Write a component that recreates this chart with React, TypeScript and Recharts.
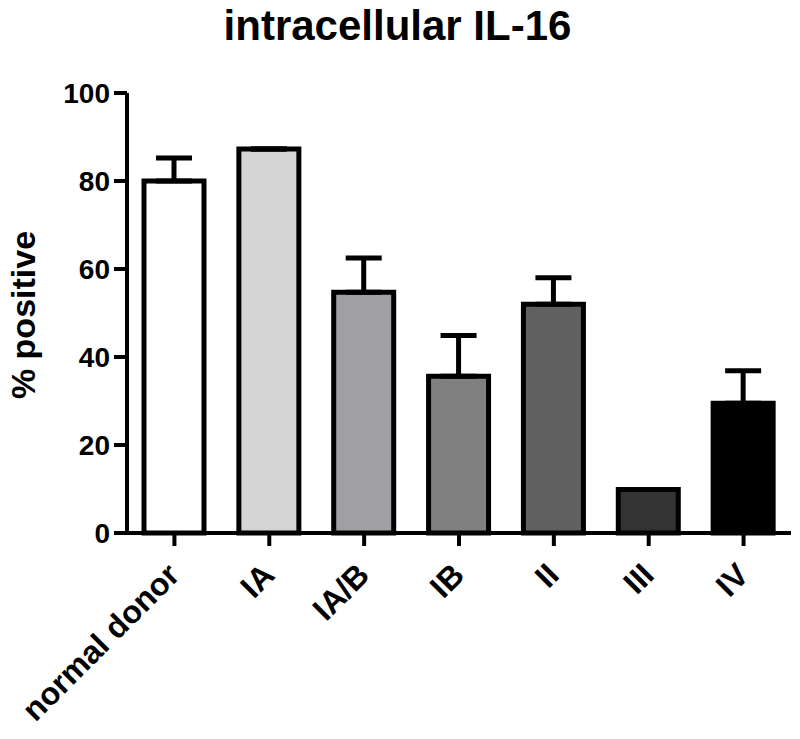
import { BarChart, Bar, Cell, XAxis, YAxis, ErrorBar } from "recharts";

const groups = ["normal donor", "IA", "IA/B", "IB", "II", "III", "IV"];
const percentPositive = [80, 87.3, 54.7, 35.6, 52, 9.9, 29.5];
const sem = [5.2, 0, 7.8, 9.3, 6, 0, 7.4];
const yTicks = [0, 20, 40, 60, 80, 100];

const fills = ["#ffffff", "#d4d4d4", "#a0a0a4", "#808080", "#606060", "#333333", "#000000"];

const data = groups.map((g, i) => ({
  name: g,
  value: percentPositive[i],
  err: [0, sem[i]],
}));

const FONT = "'Liberation Sans', Arial, sans-serif";

function XTick(props: any) {
  const { x, y, payload } = props;
  return (
    <g transform={`translate(${x + 7},${y + 29})`}>
      <text
        textAnchor="end"
        transform="rotate(-45)"
        fontFamily={FONT}
        fontWeight="bold"
        fontSize={32}
        fill="#000"
      >
        {payload.value}
      </text>
    </g>
  );
}

// y axis title, baseline at x=35, centred on the plot
function YLabel() {
  return (
    <text
      x={35}
      y={315}
      transform="rotate(-90, 35, 315)"
      textAnchor="middle"
      fontFamily={FONT}
      fontWeight="bold"
      fontSize={34}
      fill="#000"
    >
      % positive
    </text>
  );
}

export default function App() {
  return (
    <div style={{ position: "absolute", left: 0, top: 0, width: 800, height: 739, background: "#fff" }}>
      <div
        style={{
          position: "absolute",
          left: 0,
          top: 5,
          width: 795,
          textAlign: "center",
          fontFamily: FONT,
          fontWeight: "bold",
          fontSize: 42,
          lineHeight: 1,
        }}
      >
        intracellular IL-16
      </div>
      <BarChart
        width={800}
        height={739}
        data={data}
        margin={{ top: 93, right: 9, bottom: 0, left: 0 }}
        barSize={60}
      >
        <XAxis
          dataKey="name"
          height={206}
          interval={0}
          axisLine={{ stroke: "#000", strokeWidth: 4 }}
          tickLine={{ stroke: "#000", strokeWidth: 4 }}
          tickSize={13}
          tick={<XTick />}
        />
        <YAxis
          width={127}
          domain={[0, 100]}
          ticks={yTicks}
          interval={0}
          axisLine={{ stroke: "#000", strokeWidth: 4 }}
          tickLine={{ stroke: "#000", strokeWidth: 4 }}
          tickSize={13}
          tickMargin={4}
          tick={{ fill: "#000", fontFamily: FONT, fontWeight: "bold", fontSize: 28 }}
          label={<YLabel />}
        />
        <Bar dataKey="value" stroke="#000" strokeWidth={5} isAnimationActive={false}>
          {data.map((d, i) => (
            <Cell key={d.name} fill={fills[i]} />
          ))}
          <ErrorBar dataKey="err" direction="y" width={18} stroke="#000" strokeWidth={5} />
        </Bar>
      </BarChart>
    </div>
  );
}
